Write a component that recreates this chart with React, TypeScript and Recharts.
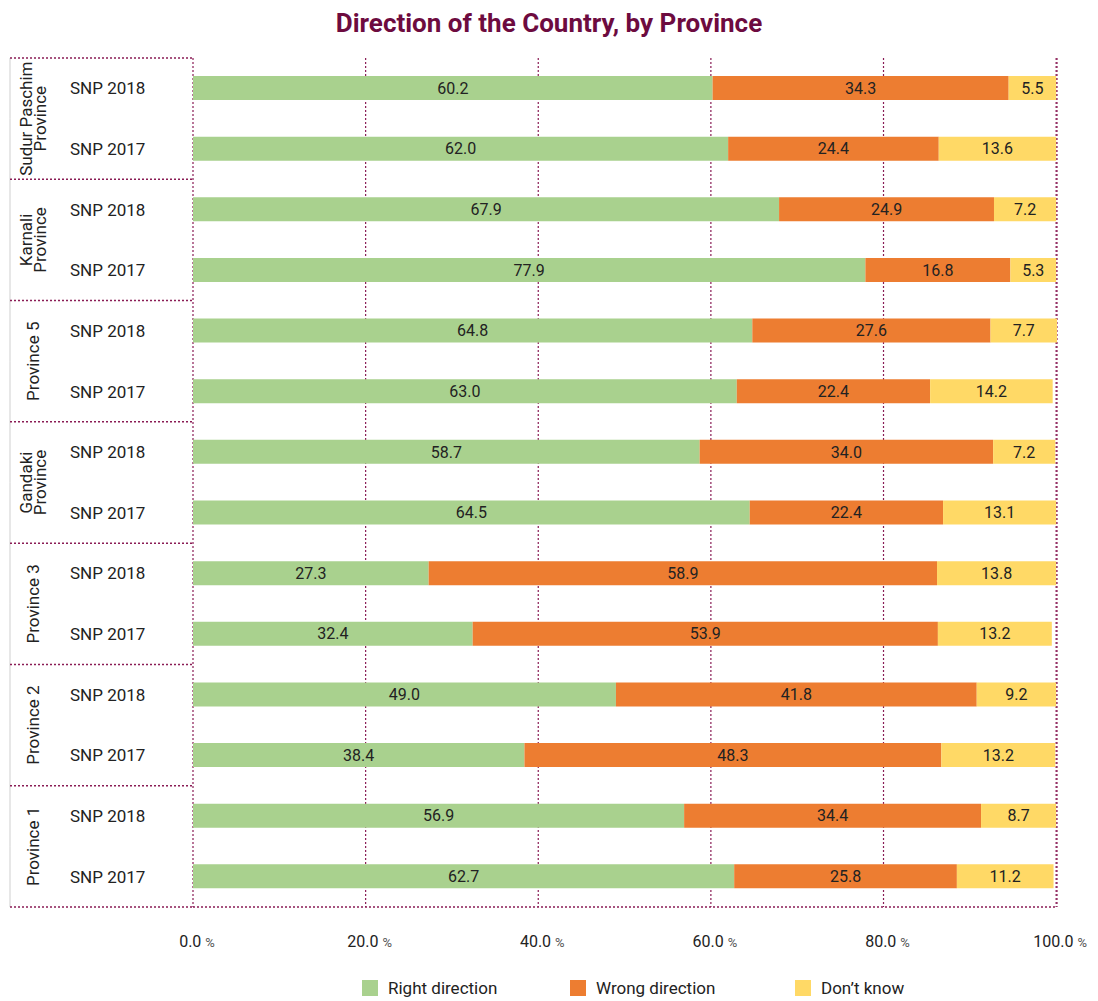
import React from 'react';
import { BarChart, Bar, XAxis, YAxis, CartesianGrid, LabelList } from 'recharts';

// Province groups, top to bottom (each has a 2018 and a 2017 row)
const provinceLines: string[][] = [
  ['Sudur Paschim', 'Province'],
  ['Karnali', 'Province'],
  ['Province 5'],
  ['Gandaki', 'Province'],
  ['Province 3'],
  ['Province 2'],
  ['Province 1'],
];
const surveys = ['SNP 2018', 'SNP 2017'];

const rightDirection = [60.2, 62.0, 67.9, 77.9, 64.8, 63.0, 58.7, 64.5, 27.3, 32.4, 49.0, 38.4, 56.9, 62.7];
const wrongDirection = [34.3, 24.4, 24.9, 16.8, 27.6, 22.4, 34.0, 22.4, 58.9, 53.9, 41.8, 48.3, 34.4, 25.8];
const dontKnow = [5.5, 13.6, 7.2, 5.3, 7.7, 14.2, 7.2, 13.1, 13.8, 13.2, 9.2, 13.2, 8.7, 11.2];

const xTicks = [0, 20, 40, 60, 80, 100];

const series = [
  { key: 'right', name: 'Right direction', color: '#A9D18E', left: 354 },
  { key: 'wrong', name: 'Wrong direction', color: '#ED7D31', left: 562 },
  { key: 'dk', name: 'Don\u2019t know', color: '#FFD966', left: 787 },
];

const data = rightDirection.map((r, i) => ({
  id: `row-${i}`,
  survey: surveys[i % 2],
  right: r,
  wrong: wrongDirection[i],
  dk: dontKnow[i],
}));

const W = 1082;
const PAGE_H = 992;
const H = 960;
const MARGIN = { top: 50, right: 33, left: 0, bottom: 25 };
const X_AXIS_H = 36;
const Y_AXIS_W = 185;
const ROW_H = (H - MARGIN.top - MARGIN.bottom - X_AXIS_H) / data.length;

const DOT = '#8a1c55';
const FONT = 'Roboto, "Noto Sans", sans-serif';

const YTick = (props: any) => {
  const { y, payload } = props;
  const i = payload.index as number;
  const top = y - ROW_H / 2;
  const bottom = y + ROW_H / 2;
  const lines = provinceLines[Math.floor(i / 2)];
  return (
    <g>
      <line x1={2} x2={2} y1={top} y2={bottom} stroke="#cfcfcf" strokeWidth={1} />
      {i % 2 === 0 && (
        <line x1={2} x2={Y_AXIS_W} y1={top} y2={top} stroke={DOT} strokeWidth={1.5} strokeDasharray="2 2" />
      )}
      {i === data.length - 1 && (
        <line x1={2} x2={Y_AXIS_W} y1={bottom} y2={bottom} stroke={DOT} strokeWidth={1.5} strokeDasharray="2 2" />
      )}
      <text x={62} y={y} dy={6} fontSize={17} fill="#222" fontFamily={FONT}>
        {data[i].survey}
      </text>
      {i % 2 === 1 && (
        <text
          transform={`translate(25, ${top}) rotate(-90)`}
          textAnchor="middle"
          fontSize={17}
          fill="#222"
          fontFamily={FONT}
        >
          {lines.map((ln, k) => (
            <tspan key={ln} x={0} y={lines.length > 1 ? (k === 0 ? -1 : 13) : 6}>
              {ln}
            </tspan>
          ))}
        </text>
      )}
    </g>
  );
};

const XTick = (props: any) => {
  const { x, y, payload } = props;
  return (
    <text x={x + 4} y={y + 32} textAnchor="middle" fontFamily={FONT} fill="#222">
      <tspan fontSize={16}>{`${payload.value.toFixed(1)} `}</tspan>
      <tspan fontSize={13} fill="#555">%</tspan>
    </text>
  );
};

export default function App() {
  return (
    <div style={{ position: 'relative', width: W, height: PAGE_H, fontFamily: FONT }}>
      <div
        style={{
          position: 'absolute',
          top: 0,
          left: 0,
          width: W,
          textAlign: 'center',
          fontSize: 26,
          fontWeight: 700,
          color: '#6d0b3f',
          lineHeight: '30px',
        }}
      >
        Direction of the Country, by Province
      </div>
      <BarChart width={W} height={H} data={data} layout="vertical" margin={MARGIN} barSize={24}>
        <CartesianGrid horizontal={false} vertical stroke={DOT} strokeWidth={1.2} strokeDasharray="2 2" />
        <XAxis
          type="number"
          domain={[0, 100]}
          ticks={xTicks}
          height={X_AXIS_H}
          tickLine={false}
          axisLine={{ stroke: DOT, strokeWidth: 1.5, strokeDasharray: '2 2' }}
          tick={<XTick />}
          interval={0}
        />
        <YAxis
          type="category"
          dataKey="id"
          width={Y_AXIS_W}
          axisLine={false}
          tickLine={false}
          tick={<YTick />}
          interval={0}
        />
        {series.map((s) => (
          <Bar key={s.key} dataKey={s.key} name={s.name} stackId="a" fill={s.color} isAnimationActive={false}>
            <LabelList
              dataKey={s.key}
              position="center"
              formatter={(v: any) => Number(v).toFixed(1)}
              fill="#222"
              fontSize={16}
              fontFamily={FONT}
            />
          </Bar>
        ))}
      </BarChart>
      {series.map((s) => (
        <div
          key={s.key}
          style={{
            position: 'absolute',
            top: 969,
            left: s.left,
            display: 'flex',
            alignItems: 'center',
            gap: 10,
            fontSize: 17,
            color: '#222',
            lineHeight: '22px',
            whiteSpace: 'nowrap',
          }}
        >
          <span style={{ width: 16, height: 16, background: s.color, display: 'inline-block' }} />
          <span>{s.name}</span>
        </div>
      ))}
    </div>
  );
}
